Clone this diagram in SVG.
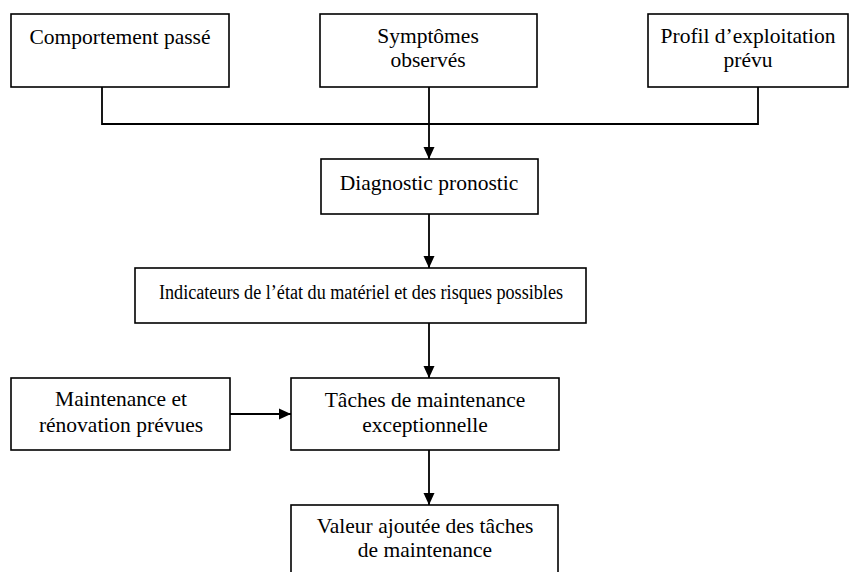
<svg xmlns="http://www.w3.org/2000/svg" width="856" height="572" viewBox="0 0 856 572">
  <style>
    .box { fill: #ffffff; stroke: #000000; stroke-width: 1.6; }
    .lbl { font-family: "Liberation Serif", "Times New Roman", serif; font-size: 21.5px; fill: #000000; text-anchor: middle; }
    .wire { fill: none; stroke: #000000; stroke-width: 1.8; }
  </style>
  <defs>
    <marker id="head" markerUnits="userSpaceOnUse" markerWidth="12" markerHeight="12" viewBox="0 0 12 12" refX="12" refY="6" orient="auto">
      <path d="M0,0.5 L12,6 L0,11.5 Z" fill="#000000"/>
    </marker>
  </defs>
  <rect width="856" height="572" fill="#ffffff"/>

  <!-- connectors -->
  <g id="connectors">
    <path class="wire" d="M102,87 V124 H758 V87"/>
    <path class="wire" d="M429,87 V159" marker-end="url(#head)"/>
    <path class="wire" d="M429,214 V268" marker-end="url(#head)"/>
    <path class="wire" d="M429,323 V378" marker-end="url(#head)"/>
    <path class="wire" d="M230,414 H291" marker-end="url(#head)"/>
    <path class="wire" d="M429,450 V505" marker-end="url(#head)"/>
  </g>

  <g id="comportement">
    <rect class="box" x="11" y="14" width="218" height="73"/>
    <text class="lbl" x="120" y="44">Comportement passé</text>
  </g>

  <g id="symptomes">
    <rect class="box" x="320" y="14" width="217" height="73"/>
    <text class="lbl" x="428" y="43">Symptômes</text>
    <text class="lbl" x="428" y="67">observés</text>
  </g>

  <g id="profil">
    <rect class="box" x="648" y="14" width="200" height="73"/>
    <text class="lbl" x="748" y="43">Profil d’exploitation</text>
    <text class="lbl" x="748" y="67">prévu</text>
  </g>

  <g id="diagnostic">
    <rect class="box" x="321" y="159" width="217" height="55"/>
    <text class="lbl" x="429" y="190">Diagnostic pronostic</text>
  </g>

  <g id="indicateurs">
    <rect class="box" x="135" y="268" width="451" height="55"/>
    <text class="lbl" x="361" y="299" style="font-size:20px" textLength="404" lengthAdjust="spacingAndGlyphs">Indicateurs de l’état du matériel et des risques possibles</text>
  </g>

  <g id="maintenance">
    <rect class="box" x="11" y="378" width="219" height="72"/>
    <text class="lbl" x="121" y="406">Maintenance et</text>
    <text class="lbl" x="121" y="432">rénovation prévues</text>
  </g>

  <g id="taches">
    <rect class="box" x="291" y="378" width="268" height="72"/>
    <text class="lbl" x="425" y="407">Tâches de maintenance</text>
    <text class="lbl" x="425" y="432">exceptionnelle</text>
  </g>

  <g id="valeur">
    <rect class="box" x="291" y="505" width="267" height="80"/>
    <text class="lbl" x="425" y="533">Valeur ajoutée des tâches</text>
    <text class="lbl" x="425" y="557">de maintenance</text>
  </g>
</svg>
